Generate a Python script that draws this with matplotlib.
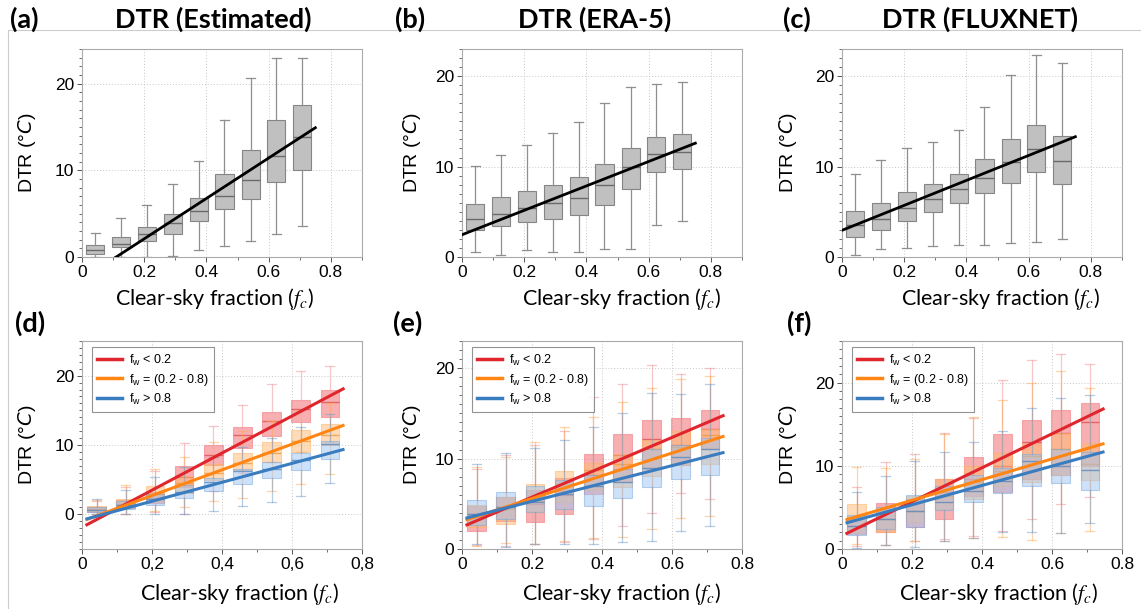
import matplotlib
matplotlib.use("Agg")
import matplotlib.pyplot as plt
from matplotlib.lines import Line2D
from matplotlib.ticker import MultipleLocator, FuncFormatter

# bin centres of clear-sky fraction
fc_bins = [0.042, 0.125, 0.208, 0.292, 0.375, 0.458, 0.542, 0.625, 0.708]

# ---------------- top row : all data ----------------
# rows: whisker low, q1, median, q3, whisker high
a_box = [[0.05, 0.05, 0.05, 0.1, 0.77, 1.3, 1.9, 2.6, 3.6],
         [0.38, 1.1, 1.8, 2.7, 4.1, 5.5, 6.65, 8.6, 10.0],
         [0.77, 1.55, 2.6, 3.9, 5.3, 7.0, 8.9, 11.6, 13.85],
         [1.35, 2.3, 3.5, 5.0, 6.85, 9.6, 12.3, 15.8, 17.5],
         [2.8, 4.5, 6.0, 8.4, 11.1, 15.8, 20.7, 23.0, 23.0]]
b_box = [[0.5, 0.25, 0.77, 0.5, 0.6, 0.85, 0.9, 3.55, 4.0],
         [2.95, 3.45, 3.9, 4.2, 4.65, 5.75, 7.55, 9.4, 9.7],
         [4.15, 4.8, 5.4, 5.95, 6.55, 8.0, 10.0, 11.4, 11.65],
         [5.9, 6.6, 7.3, 8.0, 8.85, 10.3, 12.0, 13.25, 13.6],
         [10.1, 11.3, 12.4, 13.7, 14.9, 17.0, 18.75, 19.1, 19.4]]
c_box = [[0.25, 0.9, 1.0, 1.25, 1.3, 1.35, 1.5, 1.65, 1.95],
         [2.2, 2.95, 4.0, 5.0, 6.0, 7.1, 8.2, 9.35, 8.05],
         [3.5, 4.2, 5.45, 6.4, 7.5, 8.75, 10.5, 11.95, 10.6],
         [5.05, 6.0, 7.2, 8.05, 9.15, 10.8, 13.0, 14.55, 13.4],
         [9.2, 10.7, 12.0, 12.75, 14.05, 16.55, 20.15, 22.3, 21.4]]
# linear fits (intercept, slope)
a_fit = [-2.56, 23.3]
b_fit = [2.46, 13.5]
c_fit = [2.95, 13.8]

# ---------------- bottom row : split by f_w ----------------
d_red = [[0.0, 0.0, 0.3, 0.0, 3.3, 6.0, 7.5, 9.0, 10.5],
         [0.35, 0.9, 1.6, 3.95, 7.1, 9.6, 11.3, 13.3, 14.1],
         [0.7, 1.4, 2.3, 5.4, 8.6, 11.4, 13.4, 15.2, 16.2],
         [1.1, 2.1, 3.2, 6.95, 10.0, 12.6, 14.7, 16.5, 18.0],
         [1.9, 4.0, 6.3, 10.3, 12.7, 15.8, 18.8, 20.7, 21.4]]
d_orange = [[0.0, 0.0, 0.5, 1.0, 1.9, 2.4, 3.3, 4.4, 5.8],
            [0.45, 1.0, 1.8, 3.1, 5.0, 6.4, 7.6, 9.0, 10.0],
            [0.8, 1.5, 3.0, 4.5, 6.0, 7.4, 8.9, 10.6, 11.4],
            [1.2, 2.2, 4.05, 5.6, 7.2, 8.8, 10.4, 12.1, 13.0],
            [2.1, 4.3, 6.6, 8.2, 10.5, 12.0, 13.5, 15.0, 16.0]]
d_blue = [[0.0, 0.0, 0.0, 0.1, 0.5, 1.2, 1.8, 2.7, 4.5],
          [0.3, 0.8, 1.4, 2.4, 3.4, 4.4, 5.2, 6.4, 8.0],
          [0.6, 1.3, 2.2, 3.2, 4.6, 6.2, 6.6, 7.9, 10.1],
          [1.0, 1.9, 3.0, 4.2, 5.2, 6.5, 7.5, 8.8, 10.6],
          [2.2, 3.5, 5.4, 6.8, 8.2, 9.7, 11.0, 12.6, 14.4]]
d_fits = [[-1.87, 26.76], [-0.99, 18.51], [-0.84, 13.65]]

e_red = [[0.4, 0.35, 0.6, 0.8, 1.1, 2.5, 4.0, 6.2, 5.5],
         [2.0, 3.1, 3.0, 3.9, 6.1, 7.4, 8.8, 9.25, 11.1],
         [3.9, 4.6, 5.0, 6.0, 8.2, 10.4, 12.2, 11.5, 13.3],
         [4.8, 5.8, 6.5, 7.8, 10.55, 12.7, 14.3, 14.45, 15.4],
         [8.8, 10.4, 11.5, 13.1, 16.8, 18.3, 20.4, 19.3, 20.0]]
e_orange = [[0.3, 0.67, 0.6, 0.9, 1.2, 1.3, 2.2, 3.4, 3.6],
            [2.4, 2.8, 4.1, 5.2, 6.5, 6.85, 8.1, 9.25, 9.45],
            [3.6, 4.4, 5.3, 6.4, 8.7, 9.45, 11.1, 11.3, 12.6],
            [4.9, 5.7, 7.2, 8.6, 9.55, 10.55, 12.0, 13.1, 13.3],
            [9.1, 10.2, 11.85, 13.5, 14.6, 16.3, 17.85, 18.8, 19.1]]
e_blue = [[0.5, 0.2, 0.55, 0.55, 0.55, 0.75, 0.9, 2.0, 2.5],
          [2.7, 3.3, 4.1, 4.4, 4.8, 5.6, 6.9, 7.7, 8.15],
          [3.9, 4.6, 5.2, 6.1, 7.0, 7.4, 9.0, 10.2, 11.1],
          [5.45, 6.3, 7.0, 7.6, 8.15, 8.9, 11.1, 11.5, 12.3],
          [9.4, 10.6, 11.2, 12.0, 13.5, 15.0, 17.3, 17.1, 18.2]]
e_fits = [[2.44, 16.49], [3.07, 12.57], [3.30, 9.86]]

f_red = [[0.4, 0.5, 1.0, 1.2, 1.6, 2.2, 3.6, 5.4, 6.2],
         [1.8, 2.1, 2.6, 3.6, 6.4, 6.8, 8.4, 8.85, 10.0],
         [2.8, 3.6, 4.6, 6.8, 8.4, 10.0, 12.85, 13.9, 15.3],
         [3.6, 5.5, 6.0, 8.4, 11.1, 13.85, 15.55, 16.65, 17.5],
         [7.5, 10.5, 11.4, 13.9, 15.7, 20.3, 22.7, 23.4, 22.2]]
f_orange = [[0.6, 0.5, 1.0, 1.0, 1.3, 1.4, 1.1, 1.9, 2.2],
            [2.0, 2.1, 3.3, 4.8, 6.0, 7.6, 8.0, 8.85, 8.25],
            [3.8, 3.6, 4.6, 6.4, 8.0, 9.4, 11.2, 12.0, 10.25],
            [5.4, 5.1, 6.4, 8.4, 10.0, 11.5, 12.65, 14.0, 12.8],
            [9.9, 9.7, 10.8, 13.85, 15.9, 17.95, 20.0, 21.4, 19.35]]
f_blue = [[0.1, 0.5, 0.2, 1.0, 1.3, 2.1, 2.1, 1.9, 3.1],
          [1.7, 2.4, 2.6, 4.7, 5.7, 6.75, 7.6, 7.95, 7.15],
          [2.8, 3.6, 4.6, 5.6, 7.0, 8.2, 10.6, 10.0, 9.45],
          [4.1, 5.0, 6.5, 7.6, 8.85, 9.7, 11.4, 12.05, 11.65],
          [6.8, 8.75, 10.6, 11.7, 12.85, 14.2, 17.0, 18.1, 18.5]]
f_fits = [[1.60, 20.41], [3.37, 12.43], [2.99, 11.62]]

fw_labels = [r"f$_\mathregular{w}$ < 0.2", r"f$_\mathregular{w}$ = (0.2 - 0.8)",
             r"f$_\mathregular{w}$ > 0.8"]
fit_x = [0.01, 0.75]

W, H = 1141, 609
fig = plt.figure(figsize=(W / 100, H / 100), dpi=100)
plt.rcParams['font.family'] = ['Liberation Sans', 'DejaVu Sans']

TXT = ['Lato', 'DejaVu Sans']
red, orange, blue = '#e0262c', '#ff8514', '#3a7cc0'


def fx(px):
    return px / W


def fy(py):
    return 1 - py / H


def make_ax(left, top, xmax, ylim, comma=False):
    ax = fig.add_axes([fx(left), fy(top + 208), fx(280), 208 / H])
    ax.set_xlim(0, xmax)
    ax.set_ylim(*ylim)
    ax.xaxis.set_major_locator(MultipleLocator(0.2))
    ax.xaxis.set_minor_locator(MultipleLocator(0.1))
    ax.yaxis.set_major_locator(MultipleLocator(10))
    ax.yaxis.set_minor_locator(MultipleLocator(1))
    if comma:
        ax.xaxis.set_major_formatter(FuncFormatter(
            lambda v, p: '0' if abs(v) < 1e-9 else ('%.1f' % v).replace('.', ',')))
    else:
        ax.xaxis.set_major_formatter(FuncFormatter(
            lambda v, p: '0' if abs(v) < 1e-9 else '%.1f' % v))
    ax.yaxis.set_major_formatter(FuncFormatter(lambda v, p: '%d' % v))
    ax.tick_params(which='both', direction='out', color='#555555', labelsize=12.5,
                   labelcolor='black', pad=2)
    ax.tick_params(which='major', length=3.5, width=0.7)
    ax.tick_params(which='minor', length=2, width=0.6)
    for s in ax.spines.values():
        s.set_color('#aaaaaa')
        s.set_linewidth(0.8)
    ax.grid(True, which='major', linestyle=(0, (1, 2)), color='#c8c8c8', lw=0.7)
    ax.set_axisbelow(True)
    return ax


def boxes(ax, box, face, edge, medc, whc, width, alpha=1.0, z=2):
    stats = [dict(whislo=box[0][i], q1=box[1][i], med=box[2][i],
                  q3=box[3][i], whishi=box[4][i]) for i in range(len(fc_bins))]
    ax.bxp(stats, positions=fc_bins, widths=width, capwidths=width * 0.5,
           patch_artist=True, showfliers=False, manage_ticks=False,
           boxprops=dict(facecolor=face, edgecolor=edge, lw=0.8, alpha=alpha),
           medianprops=dict(color=medc, lw=1.0, alpha=min(1, alpha + 0.3)),
           whiskerprops=dict(color=whc, lw=0.9, alpha=alpha),
           capprops=dict(color=whc, lw=0.9, alpha=alpha), zorder=z)


def fit_line(ax, fit, color, lw):
    ys = [fit[0] + fit[1] * x for x in fit_x]
    ax.plot(fit_x, ys, color=color, lw=lw, solid_capstyle='butt', zorder=5)


lefts = [82, 462, 842]

# top row
top_data = [(a_box, a_fit, (0, 24)), (b_box, b_fit, (0, 23)), (c_box, c_fit, (0, 23))]
for left, (box, fit, yl) in zip(lefts, top_data):
    ax = make_ax(left, 49, 0.9, yl)
    boxes(ax, box, '#c0c0c0', '#858585', '#6a6a6a', '#8f8f8f', 0.058)
    ys = [fit[0] + fit[1] * x for x in [0.0, 0.75]]
    ax.plot([0.0, 0.75], ys, color='black', lw=2.0, zorder=5)

# bottom row
bot_data = [(d_red, d_orange, d_blue, d_fits, (-5, 25), True),
            (e_red, e_orange, e_blue, e_fits, (0, 23), False),
            (f_red, f_orange, f_blue, f_fits, (0, 25), False)]
for left, (rb, ob, bb, fits, yl, comma) in zip(lefts, bot_data):
    ax = make_ax(left, 341, 0.8, yl, comma)
    boxes(ax, rb, '#f47a80', '#f08088', '#e05a60', '#f3a0a4', 0.053, 0.6, 2)
    boxes(ax, ob, '#ffbb70', '#ffb060', '#f09a40', '#ffaa55', 0.053, 0.5, 3)
    boxes(ax, bb, '#9cc6f4', '#78a8dc', '#5a88bb', '#6f9ccc', 0.053, 0.5, 4)
    handles = []
    for fit, col, lab in zip(fits, [red, orange, blue], fw_labels):
        fit_line(ax, fit, col, 2.2)
        handles.append(Line2D([], [], color=col, lw=2.5, label=lab))
    leg = ax.legend(handles=handles, loc='upper left', bbox_to_anchor=(0.035, 0.97),
                    fontsize=9, frameon=True, fancybox=False, borderpad=0.45,
                    handlelength=2.0, handletextpad=0.5, labelspacing=0.3,
                    borderaxespad=0)
    leg.get_frame().set_edgecolor('#777777')
    leg.get_frame().set_linewidth(0.8)
    leg.set_zorder(10)

# axis labels
ylab_x = [27, 412, 788]
for row_c in [153, 445]:
    for x in ylab_x:
        fig.text(fx(x), fy(row_c), r'DTR (°$C$)', rotation=90, ha='center',
                 va='center', fontsize=14, math_fontfamily='dejavusans')
xl_top = [215, 622, 1001]
xl_bot = [240, 622, 999]
for x in xl_top:
    fig.text(fx(x), fy(299), r'Clear-sky fraction ($f_c$)', ha='center', va='center',
             fontsize=15.5, family=TXT, math_fontfamily='stix')
for x in xl_bot:
    fig.text(fx(x), fy(594), r'Clear-sky fraction ($f_c$)', ha='center', va='center',
             fontsize=15.5, family=TXT, math_fontfamily='stix')

# titles and panel letters
titles = ['DTR (Estimated)', 'DTR (ERA-5)', 'DTR (FLUXNET)']
title_x = [213, 595, 980]
letter_x = [10, 395, 783]
for t, tx, lx, l in zip(titles, title_x, letter_x, ['(a)', '(b)', '(c)']):
    fig.text(fx(tx), fy(19), t, ha='center', va='center', fontsize=19.5,
             fontweight='bold', family=TXT)
    fig.text(fx(lx), fy(19), l, ha='left', va='center', fontsize=19.5,
             fontweight='bold', family=TXT)
for lx, l in zip([15, 393, 787], ['(d)', '(e)', '(f)']):
    fig.text(fx(lx), fy(323), l, ha='left', va='center', fontsize=19.5,
             fontweight='bold', family=TXT)

# slide frame lines
fig.add_artist(Line2D([fx(8), 1], [fy(30), fy(30)], transform=fig.transFigure,
                      color='#cccccc', lw=0.8, zorder=-1))
fig.add_artist(Line2D([fx(8), fx(8)], [fy(30), 0], transform=fig.transFigure,
                      color='#cccccc', lw=0.8, zorder=-1))

fig.savefig('out.png', dpi=100)
